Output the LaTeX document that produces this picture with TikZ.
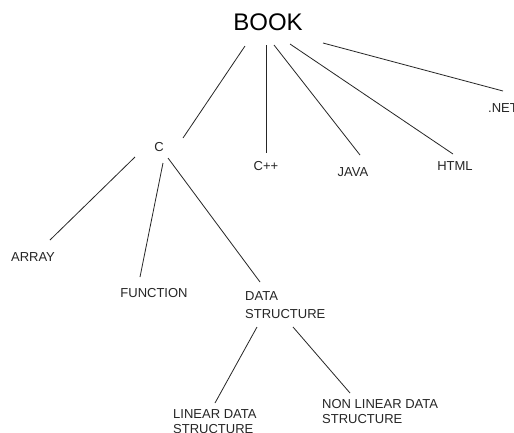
\documentclass[tikz,border=0pt]{standalone}
\usepackage{fontspec}
\setmainfont{Liberation Sans}
\begin{document}
\begin{tikzpicture}[x=1pt,y=-1pt,
  lbl/.style={inner sep=0pt,font=\fontsize{13}{15}\selectfont,text=black!85},
  edge/.style={draw=black!85,line width=0.8pt}]
\useasboundingbox (0,0) rectangle (514,432);
\fill[white] (0,0) rectangle (514,432);
\begin{scope}
\clip (0,0) rectangle (514,432);
% labels
\node[inner sep=0pt,font=\fontsize{24}{28}\selectfont] (book) at (268,22) {BOOK};
\node[lbl] (c) at (159,147) {C};
\node[lbl] (cpp) at (266,166) {C++};
\node[lbl] (java) at (353,172) {JAVA};
\node[lbl] (html) at (455,166) {HTML};
\node[lbl,anchor=west] (net) at (488,108) {.NET};
\node[lbl] (array) at (33,257) {ARRAY};
\node[lbl] (func) at (154,293) {FUNCTION};
\node[lbl,anchor=base west,align=left,font=\fontsize{13}{18}\selectfont] (ds) at (245,318) {DATA\\STRUCTURE};
\node[lbl,anchor=base west,align=left] (lds) at (173,433) {LINEAR DATA\\STRUCTURE};
\node[lbl,anchor=base west,align=left] (nlds) at (322,423) {NON LINEAR DATA\\STRUCTURE};
% connector ends
\coordinate (b1) at (245,46); \coordinate (c0) at (183,138);
\coordinate (b2) at (266,45); \coordinate (cpp0) at (266,153);
\coordinate (b3) at (274,45); \coordinate (java0) at (360,155);
\coordinate (b4) at (290,44); \coordinate (html0) at (453,154);
\coordinate (b5) at (323,43); \coordinate (net0) at (503,91);
\coordinate (c1) at (135,157); \coordinate (array0) at (50,240);
\coordinate (c2) at (163,163); \coordinate (func0) at (140,277);
\coordinate (c3) at (168,158); \coordinate (ds0) at (260,282);
\coordinate (d1) at (257,327); \coordinate (lds0) at (215,403);
\coordinate (d2) at (293,327); \coordinate (nlds0) at (350,393);
% connectors
\draw[edge] (b1) -- (c0);
\draw[edge] (b2) -- (cpp0);
\draw[edge] (b3) -- (java0);
\draw[edge] (b4) -- (html0);
\draw[edge] (b5) -- (net0);
\draw[edge] (c1) -- (array0);
\draw[edge] (c2) -- (func0);
\draw[edge] (c3) -- (ds0);
\draw[edge] (d1) -- (lds0);
\draw[edge] (d2) -- (nlds0);
\end{scope}
\end{tikzpicture}
\end{document}
